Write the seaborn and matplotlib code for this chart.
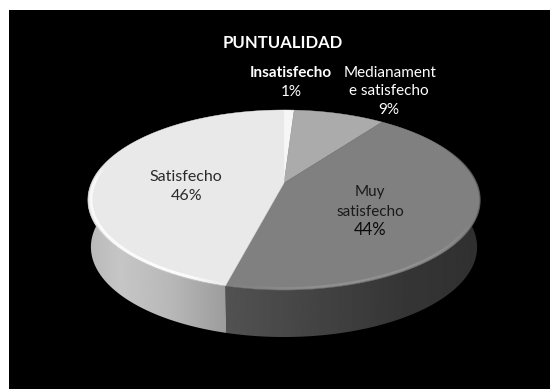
import numpy as np
import matplotlib
matplotlib.use("Agg")
import matplotlib.pyplot as plt
from matplotlib.collections import LineCollection
from matplotlib.colors import to_rgb
from matplotlib.patches import Polygon
import seaborn as sns

# Survey shares, clockwise from twelve o'clock
categories = ["Insatisfecho", "Medianamente satisfecho", "Muy satisfecho", "Satisfecho"]
shares = [1, 9, 44, 46]
title = "PUNTUALIDAD"

sns.set_theme(style="white")
plt.rcParams["font.family"] = ["Lato", "DejaVu Sans"]

W, H = 550, 389
top_shades = sns.color_palette(["#f6f6f6", "#ababab", "#808080", "#e9e9e9"])

fig = plt.figure(figsize=(W / 100, H / 100), dpi=100, facecolor="white")
ax = fig.add_axes([0, 0, 1, 1])
ax.set_xlim(0, W)
ax.set_ylim(H, 0)
ax.axis("off")
ax.add_patch(plt.Rectangle((9, 10), W - 9, H - 10, fc="black", ec="none", zorder=0))

# Tilted disc: a perspective projection of the unit circle
CX, CY, A, B, P, DEPTH, TAPER = 284.0, 183.0, 192.5, 86.8, 0.189, 47.0, 0.985


def project(theta, r=1.0):
    u, v = r * np.sin(theta), r * np.cos(theta)
    d = 1 + P * v
    return CX + A * u / d, CY - B * v / d


edges = 2 * np.pi * np.concatenate([[0], np.cumsum(shares)]) / np.sum(shares)


def rim(t0, t1, r=1.0, n=240):
    return project(np.linspace(t0, t1, n), r)


def side_wall(t0, t1, stops, zorder=2):
    """Extruded wall below the front rim, shaded left to right."""
    x, y = rim(t0, t1)
    xb = CX + (x - CX) * TAPER
    verts = np.column_stack([np.r_[x, xb[::-1]], np.r_[y, y[::-1] + DEPTH]])
    clip = Polygon(verts, closed=True, transform=ax.transData, fc="none", ec="none")
    ax.add_patch(clip)
    x0, x1 = min(x.min(), xb.min()), max(x.max(), xb.max())
    xs, vals = zip(*stops)
    grad = np.interp(np.linspace(x0, x1, 400), xs, vals)[None, :]
    im = ax.imshow(grad, extent=(x0, x1, y.max() + DEPTH, y.min()), cmap="gray",
                   vmin=0, vmax=255, aspect="auto", zorder=zorder, interpolation="bilinear")
    im.set_clip_path(clip)
    ax.set_xlim(0, W)
    ax.set_ylim(H, 0)


def bevel(t0, t1, r, color, lw, peak=1.0, fade=0.25):
    """Rim highlight whose opacity falls off toward both ends of its arc."""
    x, y = rim(t0, t1, r)
    pts = np.column_stack([x, y])
    segs = np.stack([pts[:-1], pts[1:]], axis=1)
    s = np.linspace(0, 1, len(segs))
    alpha = peak * np.clip(np.minimum(s, 1 - s) / fade, 0, 1)
    rgba = np.column_stack([np.tile(to_rgb(color), (len(segs), 1)), alpha])
    ax.add_collection(LineCollection(segs, colors=rgba, linewidths=lw, zorder=4))


# Only the near half of the rim shows a wall
side_wall(edges[2], edges[3], [(226, 0x52), (300, 0x46), (400, 0x36), (480, 0x30)])
side_wall(edges[3], 3 * np.pi / 2 + 0.19, [(88, 0xb8), (120, 0xc6), (170, 0xb8), (226, 0x9c)])

# Top face, one wedge per category
for t0, t1, shade in zip(edges[:-1], edges[1:], top_shades):
    x, y = rim(t0, t1)
    ax.add_patch(Polygon(np.column_stack([np.r_[CX, x], np.r_[CY, y]]), closed=True,
                         fc=shade, ec=shade, lw=0.3, zorder=3))

# Soft bevel along the near rim
bevel(edges[3] - 0.01, np.radians(282), 0.985, "white", 2.0, fade=0.12)
bevel(edges[3] - 0.01, np.radians(285), 1.0, "#c8c8c8", 0.7, peak=0.5, fade=0.1)
bevel(np.radians(112), edges[3], 0.985, "#989898", 1.4, peak=0.8, fade=0.3)
bevel(np.radians(60), np.radians(130), 1.0, "#585858", 1.0, peak=0.8, fade=0.3)


def label(x, y, text, color, size, weight="normal"):
    ax.text(x, y, text, color=color, fontsize=size, fontweight=weight,
            ha="center", va="center", zorder=5)


# Chart title and slice labels, one text per line
label(283, 43, title, "white", 12, "bold")

label(291, 73, categories[0], "white", 11, "bold")
label(291, 92, f"{shares[0]}%", "white", 11)

label(390, 73, "Medianament", "white", 11)
label(389, 91, "e satisfecho", "white", 11)
label(389, 110, f"{shares[1]}%", "white", 11)

label(370, 192, "Muy", "#1a1a1a", 11)
label(370, 212, "satisfecho", "#1a1a1a", 11)
label(370, 230, f"{shares[2]}%", "#0a0a0a", 12)

label(186, 177, categories[3], "#2a2a2a", 11.5)
label(187, 196, f"{shares[3]}%", "#2a2a2a", 11.5)

fig.savefig("out.png", dpi=100, facecolor="white")
